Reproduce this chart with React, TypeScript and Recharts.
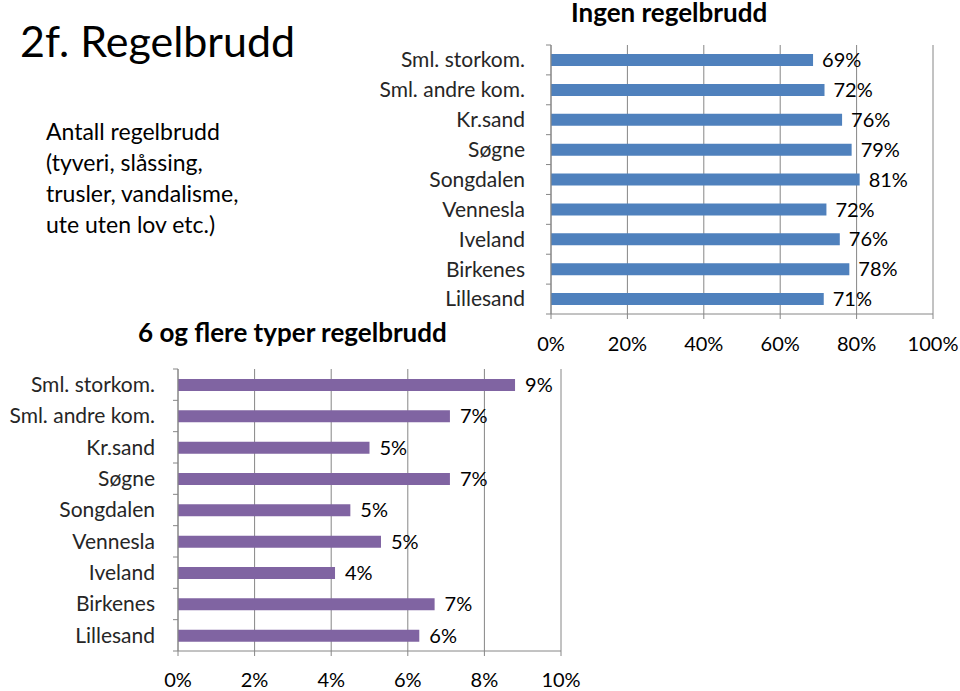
import { BarChart, Bar, XAxis, YAxis, CartesianGrid, LabelList } from 'recharts';

const places = [
  'Sml. storkom.', 'Sml. andre kom.', 'Kr.sand', 'Søgne', 'Songdalen',
  'Vennesla', 'Iveland', 'Birkenes', 'Lillesand',
];
const noBreaches = [68.6, 71.6, 76.2, 78.7, 80.8, 72.1, 75.6, 78.1, 71.4];
const sixOrMore = [8.8, 7.1, 5.0, 7.1, 4.5, 5.3, 4.1, 6.7, 6.3];
const topTicks = [0, 20, 40, 60, 80, 100];
const bottomTicks = [0, 2, 4, 6, 8, 10];

const FONT = 'Lato, "Open Sans", sans-serif';
const AXIS = '#868686';

const topData = places.map((name, i) => ({ name, value: noBreaches[i] }));
const bottomData = places.map((name, i) => ({ name, value: sixOrMore[i] }));

// category label plus the small marks between categories, like Excel draws them
function CatTick(props: any) {
  const { x, y, payload, index, band, gap } = props;
  const ax = x + gap;
  const last = index === places.length - 1;
  return (
    <g>
      <line x1={ax - 5} x2={ax} y1={y - band / 2} y2={y - band / 2} stroke={AXIS} />
      {last && <line x1={ax - 5} x2={ax} y1={y + band / 2} y2={y + band / 2} stroke={AXIS} />}
      <text x={x} y={y} dy="0.35em" textAnchor="end" fill="#262626" fontSize={21} fontFamily={FONT}>
        {payload.value}
      </text>
    </g>
  );
}

const pct = (v: number) => `${v}%`;
const rounded = (v: any) => `${Math.round(Number(v))}%`;

export default function App() {
  return (
    <div style={{ position: 'absolute', left: 0, top: 0, width: 960, height: 691, background: '#fff', fontFamily: FONT, color: '#000', overflow: 'hidden' }}>
      <div style={{ position: 'absolute', left: 20, top: 13, fontSize: 43, lineHeight: '56px' }}>2f. Regelbrudd</div>
      <div style={{ position: 'absolute', left: 46, top: 116, fontSize: 23, lineHeight: '31px' }}>
        Antall regelbrudd<br />(tyveri, slåssing,<br />trusler, vandalisme,<br />ute uten lov etc.)
      </div>

      <div style={{ position: 'absolute', left: 571, top: -1, fontSize: 26, fontWeight: 700, lineHeight: '26px' }}>Ingen regelbrudd</div>
      <div style={{ position: 'absolute', left: 138, top: 319, fontSize: 26, fontWeight: 700, lineHeight: '26px' }}>6 og flere typer regelbrudd</div>

      <div style={{ position: 'absolute', left: 360, top: 0 }}>
        <BarChart width={600} height={370} data={topData} layout="vertical"
          margin={{ top: 45, right: 27, left: 0, bottom: 6 }}>
          <CartesianGrid horizontal={false} stroke={AXIS} />
          <XAxis type="number" domain={[0, 100]} ticks={topTicks} tickFormatter={pct}
            height={50} stroke={AXIS} tickSize={5} tickMargin={18}
            tick={{ fill: '#000', fontSize: 20, fontFamily: FONT }} />
          <YAxis type="category" dataKey="name" width={191} stroke={AXIS}
            tickLine={false} tickSize={0} tickMargin={26} interval={0}
            tick={<CatTick band={269 / 9} gap={26} />} />
          <Bar dataKey="value" fill="#4F81BD" barSize={12} isAnimationActive={false}>
            <LabelList dataKey="value" position="right" offset={9} formatter={rounded}
              style={{ fill: '#000', fontSize: 20, fontFamily: FONT }} />
          </Bar>
        </BarChart>
      </div>

      <div style={{ position: 'absolute', left: 0, top: 340 }}>
        <BarChart width={600} height={351} data={bottomData} layout="vertical"
          margin={{ top: 29, right: 39, left: 0, bottom: 4 }}>
          <CartesianGrid horizontal={false} stroke={AXIS} />
          <XAxis type="number" domain={[0, 10]} ticks={bottomTicks} tickFormatter={pct}
            height={36} stroke={AXIS} tickSize={5} tickMargin={17}
            tick={{ fill: '#000', fontSize: 20, fontFamily: FONT }} />
          <YAxis type="category" dataKey="name" width={178} stroke={AXIS}
            tickLine={false} tickSize={0} tickMargin={23} interval={0}
            tick={<CatTick band={282 / 9} gap={23} />} />
          <Bar dataKey="value" fill="#8064A2" barSize={12} isAnimationActive={false}>
            <LabelList dataKey="value" position="right" offset={10} formatter={rounded}
              style={{ fill: '#000', fontSize: 20, fontFamily: FONT }} />
          </Bar>
        </BarChart>
      </div>
    </div>
  );
}
